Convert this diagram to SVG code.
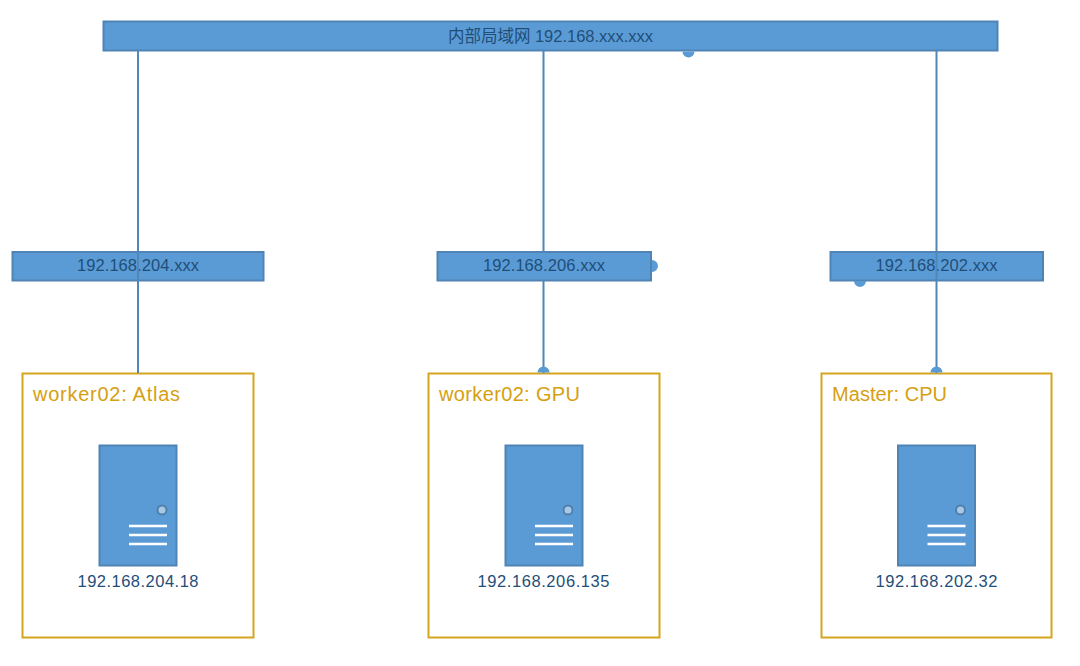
<svg xmlns="http://www.w3.org/2000/svg" width="1080" height="666" viewBox="0 0 1080 666">
<style>
.bar{fill:#5b9bd5;stroke:#4f84b4;stroke-width:2}
.box{fill:#fff;stroke:#d6a51f;stroke-width:2}
.srv{fill:#5b9bd5;stroke:#4f84b4;stroke-width:2}
.led{fill:#a9c8e6;stroke:#4f7fab;stroke-width:2}
.slot{stroke:#fff;stroke-width:2.400;fill:none}
.t{font-family:"Liberation Sans","Noto Sans CJK SC",sans-serif;fill:#1f4e79;font-size:16.500px;text-anchor:middle}
.h{font-family:"Liberation Sans",sans-serif;fill:#d6a010;font-size:20px}
.wire{stroke:#5087b8;stroke-width:2;fill:none}
.dot{fill:#5b9bd5}
</style>
<defs>
<g id="server">
<rect class="srv" x="-38.500" y="0" width="77" height="120"/>
<circle class="led" cx="24" cy="64.500" r="4.500"/>
<path class="slot" d="M-9 80.500H29M-9 89.500H29M-9 98.500H29"/>
</g>
</defs>
<g id="lan"><rect class="bar" x="103.500" y="21.500" width="894" height="29"/><text class="t" x="550.500" y="41.500" textLength="205">内部局域网 192.168.xxx.xxx</text></g>
<g id="subnet204"><rect class="bar" x="12.500" y="252" width="251" height="28.500"/><text class="t" x="138" y="271" textLength="122">192.168.204.xxx</text></g>
<g id="subnet206"><rect class="bar" x="437.500" y="252" width="213.500" height="28.500"/><text class="t" x="544" y="271" textLength="122">192.168.206.xxx</text></g>
<g id="subnet202"><rect class="bar" x="830.500" y="252" width="212.500" height="28.500"/><text class="t" x="936.500" y="271" textLength="122">192.168.202.xxx</text></g>
<g id="atlas"><rect class="box" x="22.500" y="373.500" width="231" height="264"/><text class="h" x="33" y="400.500" textLength="147">worker02: Atlas</text><use href="#server" x="138" y="445.500"/><text class="t" x="138" y="587" textLength="121">192.168.204.18</text></g>
<g id="gpu"><rect class="box" x="428.500" y="373.500" width="231" height="264"/><text class="h" x="439" y="400.500" textLength="141">worker02: GPU</text><use href="#server" x="544" y="445.500"/><text class="t" x="543.500" y="587" textLength="132">192.168.206.135</text></g>
<g id="master"><rect class="box" x="821.500" y="373.500" width="230" height="264"/><text class="h" x="832" y="400.500" textLength="115">Master: CPU</text><use href="#server" x="936.500" y="445.500"/><text class="t" x="936.500" y="587" textLength="122">192.168.202.32</text></g>
<g id="connectors">
<path class="wire" d="M138 51V373M543.500 51V251M543.500 281V373M936.500 51V373"/>
<path class="dot" d="M682.500 51.500a6 6 0 0 0 12 0zM652 260a6 6 0 0 1 0 12zM854 281a6 6 0 0 0 12 0zM537.500 372.500a6 6 0 0 1 12 0zM930.500 372.500a6 6 0 0 1 12 0z"/>
</g>
</svg>
